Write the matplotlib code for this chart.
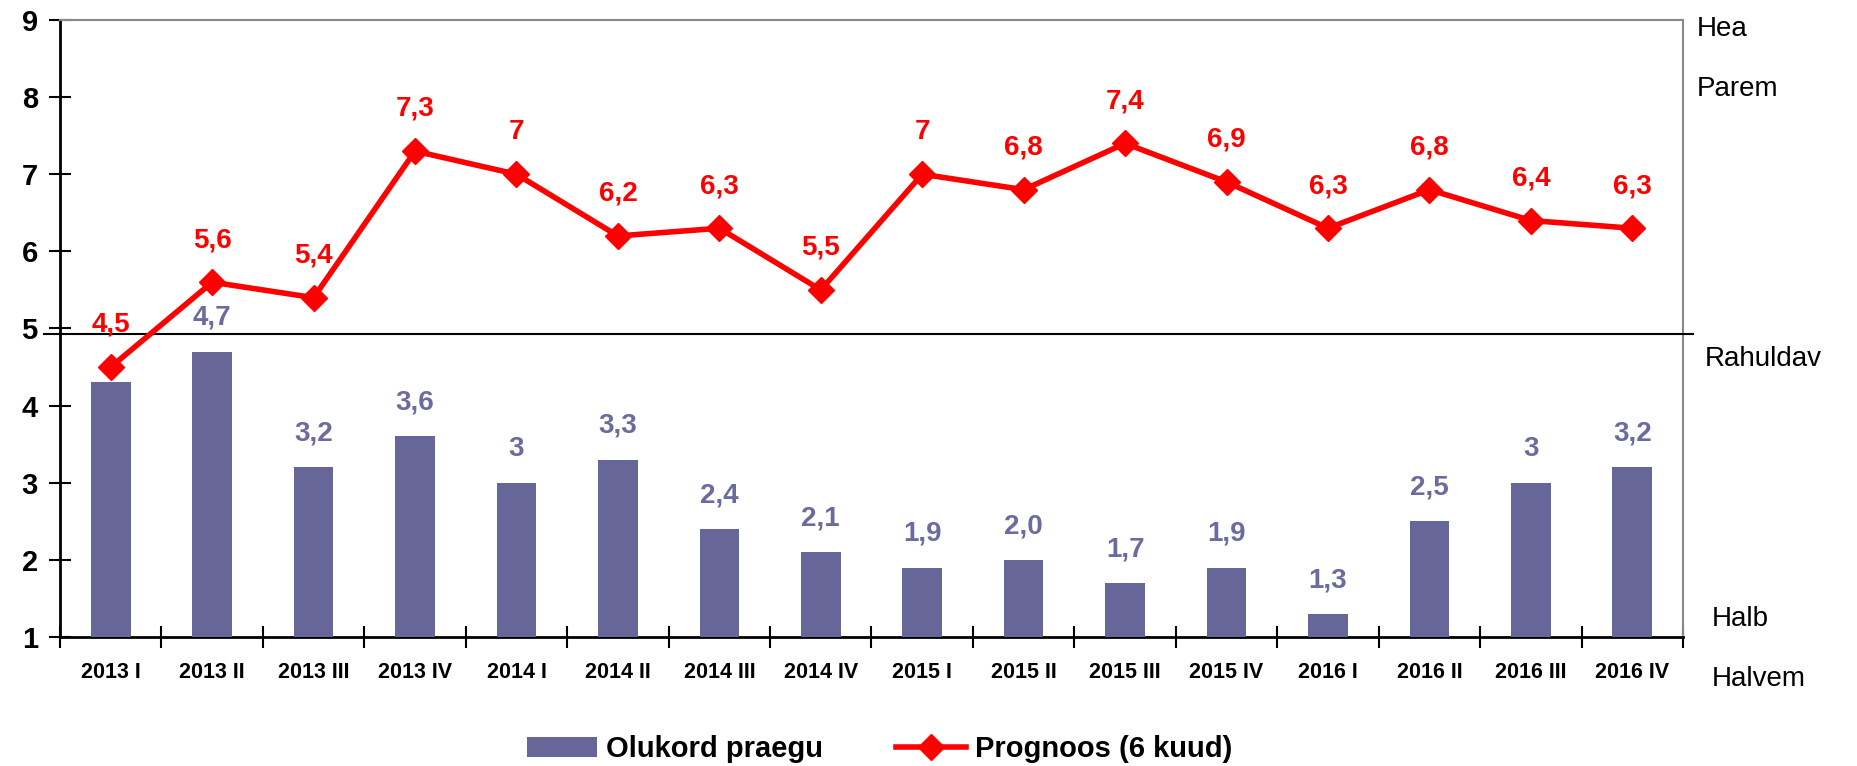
import numpy as np
import matplotlib.pyplot as plt
import matplotlib.transforms as mtransforms

quarters = ['2013 I', '2013 II', '2013 III', '2013 IV', '2014 I', '2014 II', '2014 III', '2014 IV',
            '2015 I', '2015 II', '2015 III', '2015 IV', '2016 I', '2016 II', '2016 III', '2016 IV']
olukord = [4.3, 4.7, 3.2, 3.6, 3.0, 3.3, 2.4, 2.1, 1.9, 2.0, 1.7, 1.9, 1.3, 2.5, 3.0, 3.2]
olukord_labels = ['4,3', '4,7', '3,2', '3,6', '3', '3,3', '2,4', '2,1', '1,9', '2,0', '1,7', '1,9',
                  '1,3', '2,5', '3', '3,2']
prognoos = [4.5, 5.6, 5.4, 7.3, 7.0, 6.2, 6.3, 5.5, 7.0, 6.8, 7.4, 6.9, 6.3, 6.8, 6.4, 6.3]
prognoos_labels = ['4,5', '5,6', '5,4', '7,3', '7', '6,2', '6,3', '5,5', '7', '6,8', '7,4', '6,9',
                   '6,3', '6,8', '6,4', '6,3']
scale_labels = ['Hea', 'Parem', 'Rahuldav', 'Halb', 'Halvem']
scale_y = [8.88, 8.1, 4.6, 1.23, 0.45]
scale_x = [1.0086, 1.0086, 1.0136, 1.018, 1.018]
divider = 4.93

bar_color = '#666699'
label_color = '#6b6b9f'
line_color = '#ff0000'
fam = ['Liberation Sans', 'DejaVu Sans']

fig = plt.figure(figsize=(18.58, 7.66), dpi=100)
ax = fig.add_axes([0.0323, 0.1684, 0.8735, 0.8055])

x = np.arange(len(quarters))
bars = ax.bar(x, olukord, width=0.39, color=bar_color, zorder=3, label='Olukord praegu')
line, = ax.plot(x, prognoos, color=line_color, lw=4, marker='D', ms=13, zorder=5,
                label='Prognoos (6 kuud)')

# bar value labels (the first one sits behind its bar like in the original)
for i, (v, s) in enumerate(zip(olukord, olukord_labels)):
    if i == 0:
        ax.text(i, 4.0, s, ha='center', va='center', fontsize=20, fontweight='bold',
                color=label_color, family=fam, zorder=2)
    else:
        ax.annotate(s, (i, v), xytext=(0, 15), textcoords='offset points', ha='center',
                    va='bottom', fontsize=20, fontweight='bold', color=label_color,
                    family=fam, zorder=6)

for i, (v, s) in enumerate(zip(prognoos, prognoos_labels)):
    ax.annotate(s, (i, v), xytext=(0, 21), textcoords='offset points', ha='center',
                va='bottom', fontsize=20, fontweight='bold', color=line_color,
                family=fam, zorder=6)

ax.set_xlim(-0.5, len(quarters) - 0.5)
ax.set_ylim(1, 9)
ax.set_yticks(range(1, 10))
ax.set_yticklabels([str(t) for t in range(1, 10)], fontsize=21, fontweight='bold', family=fam)
ax.tick_params(axis='y', direction='inout', length=16, width=1.5, pad=8)

ax.set_xticks(x)
ax.set_xticklabels(quarters, fontsize=15.5, fontweight='bold', family=fam)
ax.set_xticks(np.arange(-0.5, len(quarters)), minor=True)
ax.tick_params(axis='x', which='major', length=0, pad=18)
ax.tick_params(axis='x', which='minor', direction='inout', length=16, width=1.5)

for side in ['left', 'bottom']:
    ax.spines[side].set_linewidth(2)
    ax.spines[side].set_color('black')
for side in ['top', 'right']:
    ax.spines[side].set_linewidth(1.5)
    ax.spines[side].set_color('#888888')

trans = mtransforms.blended_transform_factory(ax.transAxes, ax.transData)
ax.plot([-0.01, 1.006], [divider, divider], color='black', lw=1.5, transform=trans,
        clip_on=False, zorder=4)

for s, px, py in zip(scale_labels, scale_x, scale_y):
    ax.text(px, py, s, transform=trans, ha='left', va='center',
            fontsize=20, family=fam, clip_on=False)

ax.legend([bars, line], ['Olukord praegu', 'Prognoos (6 kuud)'], loc='center',
          bbox_to_anchor=(0.505, -0.182), ncol=2, frameon=False,
          prop={'family': fam, 'weight': 'bold', 'size': 21}, handlelength=2.4,
          columnspacing=2.5, handletextpad=0.3)

fig.savefig('out.png', dpi=100)
